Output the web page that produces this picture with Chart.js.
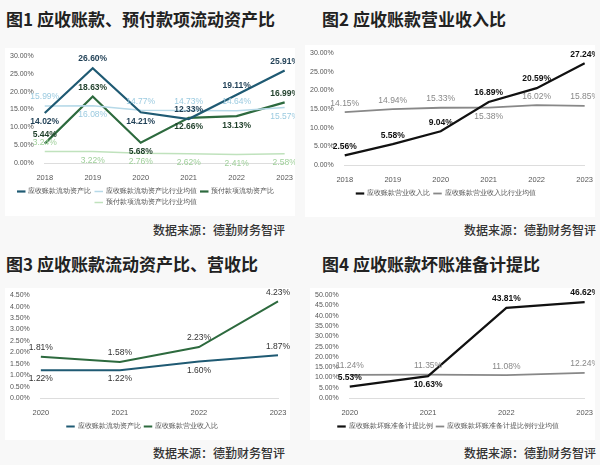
<!DOCTYPE html>
<html><head><meta charset="utf-8">
<script src="https://cdn.jsdelivr.net/npm/chart.js"></script>
<style>
body{margin:0;width:600px;height:465px;background:#f8f8f8;font-family:"Noto Sans CJK SC",sans-serif;position:relative;overflow:hidden}
.t{position:absolute;font-weight:bold;font-size:17px;color:#222;white-space:nowrap}
.s{position:absolute;font-size:12px;color:#333;font-weight:500;white-space:nowrap}
.c{position:absolute;background:#fff}
</style></head><body>
<div class="t" style="left:6px;top:6px">图1 应收账款、预付款项流动资产比</div>
<div class="t" style="left:322px;top:6px">图2 应收账款营业收入比</div>
<div class="t" style="left:6px;top:251px">图3 应收账款流动资产比、营收比</div>
<div class="t" style="left:322px;top:251px">图4 应收账款坏账准备计提比</div>
<div class="c" style="left:5px;top:48px;width:290px;height:168px"><canvas id="c1"></canvas></div>
<div class="c" style="left:305px;top:45px;width:290px;height:172px"><canvas id="c2"></canvas></div>
<div class="c" style="left:5px;top:288px;width:285px;height:152px"><canvas id="c3"></canvas></div>
<div class="c" style="left:310px;top:288px;width:285px;height:152px"><canvas id="c4"></canvas></div>
<div class="s" style="left:153px;top:221px">数据来源：德勤财务智评</div>
<div class="s" style="left:464px;top:221px">数据来源：德勤财务智评</div>
<div class="s" style="left:153px;top:444px">数据来源：德勤财务智评</div>
<div class="s" style="left:464px;top:444px">数据来源：德勤财务智评</div>
<script>
const years1=['2018','2019','2020','2021','2022','2023'];
const arCurrent1=[14.02,26.60,14.21,12.33,19.11,25.91];
const arCurrentInd1=[15.99,16.08,14.77,14.73,14.64,15.57];
const prepaid1=[5.44,18.63,5.68,12.66,13.13,16.99];
const prepaidInd1=[3.24,3.22,2.76,2.62,2.41,2.58];
const arRevenue2=[2.56,5.58,9.04,16.89,20.59,27.24];
const arRevenueInd2=[14.15,14.94,15.33,15.38,16.02,15.85];
const years3=['2020','2021','2022','2023'];
const arCurrent3=[1.22,1.22,1.60,1.87];
const arRevenue3=[1.81,1.58,2.23,4.23];
const badDebt4=[5.53,10.63,43.81,46.62];
const badDebtInd4=[11.24,11.35,11.08,12.24];

const lbl={id:'lbl',afterDatasetsDraw(ch){const x=ch.ctx;ch.data.datasets.forEach((d,i)=>{const m=ch.getDatasetMeta(i);x.save();x.font=(d.bold?'bold ':'')+'8.5px "Liberation Sans"';x.fillStyle=d.lc;x.textAlign='center';x.textBaseline='middle';m.data.forEach((p,j)=>{const up=d.pos[j]==='a';x.fillText(d.data[j].toFixed(2)+'%',p.x,p.y+(up?-9:9));});x.restore();});}};
function ds(label,data,color,w,lc,bold,pos){return{label,data,borderColor:color,backgroundColor:color,borderWidth:w,pointRadius:0,tension:0,lc,bold,pos};}
function mk(id,labels,datasets,max,step,pad){
 new Chart(document.getElementById(id),{type:'line',data:{labels,datasets},plugins:[lbl],
 options:{responsive:true,maintainAspectRatio:false,animation:false,layout:{padding:pad},
 plugins:{legend:{position:'bottom',labels:{usePointStyle:true,pointStyle:'line',boxWidth:24,boxHeight:6,font:{size:7},color:'#555',padding:4}},tooltip:{enabled:false}},
 scales:{x:{grid:{display:false},border:{color:'#ddd'},ticks:{font:{size:7.5},color:'#555',padding:2}},
 y:{min:0,max,grid:{display:false},border:{display:false},ticks:{stepSize:step,autoSkip:false,font:{size:7},color:'#555',callback:v=>v.toFixed(2)+'%'}}}}});}
mk('c1',years1,[
 ds('应收账款流动资产比',arCurrent1,'#1f5a73',2.2,'#1f3f55',true,['b','a','b','a','a','a']),
 ds('应收账款流动资产比行业均值',arCurrentInd1,'#b6d9e8',1.5,'#9ccbe0',false,['a','b','a','a','a','b']),
 ds('预付款项流动资产比',prepaid1,'#2d6a3e',2.2,'#1f3f2a',true,['a','a','b','b','b','a']),
 ds('预付款项流动资产比行业均值',prepaidInd1,'#c0e2bd',1.5,'#9fd09a',false,['a','b','b','b','b','b'])
],30,5,{top:8,right:10,left:2});
mk('c2',years1,[
 ds('应收账款营业收入比',arRevenue2,'#111',2.2,'#111',true,['a','a','a','a','a','a']),
 ds('应收账款营业收入比行业均值',arRevenueInd2,'#888',1.8,'#888',false,['a','a','a','b','a','a'])
],30,5,{top:8,right:10,left:2,bottom:10});
mk('c3',years3,[
 ds('应收账款流动资产比',arCurrent3,'#1f5a73',2,'#333',false,['b','b','b','a']),
 ds('应收账款营业收入比',arRevenue3,'#2d6a3e',2,'#333',false,['a','a','a','a'])
],4.5,0.5,{top:4,right:12,left:2});
mk('c4',years3,[
 ds('应收账款坏账准备计提比例',badDebt4,'#111',2.2,'#111',true,['a','b','a','a']),
 ds('应收账款坏账准备计提比例行业均值',badDebtInd4,'#888',1.8,'#888',false,['a','a','a','a'])
],50,5,{top:4,right:10,left:2});
</script></body></html>
